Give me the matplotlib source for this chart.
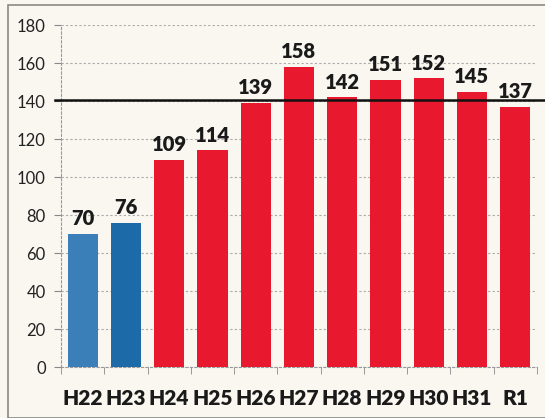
import numpy as np
import matplotlib.pyplot as plt
from matplotlib.patches import Rectangle

labels = ['H22', 'H23', 'H24', 'H25', 'H26', 'H27', 'H28', 'H29', 'H30', 'H31', 'R1']
values = [70, 76, 109, 114, 139, 158, 142, 151, 152, 145, 137]
colors = ['#3a7fb8', '#1d6aa8'] + ['#e8192e'] * 9
target = 140.5

plt.rcParams['font.family'] = ['Lato', 'DejaVu Sans']

fig = plt.figure(figsize=(5.45, 4.18), dpi=100)
fig.patch.set_facecolor('#f9f7f0')
ax = fig.add_axes([0.112, 0.122, 0.873, 0.818])
ax.set_facecolor('#f9f7f0')

# outer frame of the scanned figure
fig.patches.append(Rectangle((0.014, 0.0), 0.99, 0.987, transform=fig.transFigure,
                             fill=False, edgecolor='#8a8a84', linewidth=1.2))

x = np.arange(len(labels))
ax.bar(x, values, width=0.7, color=colors, zorder=3)
for xi, v in zip(x, values):
    ax.text(xi, v + 3, str(v), ha='center', va='bottom', fontsize=14.5,
            fontweight='heavy', color='#1a1a1a', zorder=4)

ax.plot([-0.013, 1.02], [target, target], transform=ax.get_yaxis_transform(),
        color='#111111', linewidth=1.8, clip_on=False, zorder=5)

ax.set_xlim(-0.5, len(labels) - 0.5)
ax.set_ylim(0, 180)
ax.set_yticks(range(0, 181, 20))
ax.yaxis.grid(True, color='#aaaaaa', linestyle=(0, (2, 2)), linewidth=0.8, zorder=0)

ax.set_xticks(x)
ax.set_xticklabels(labels, fontsize=15, fontweight='heavy', color='#1a1a1a')
ax.set_xticks(np.arange(-0.5, len(labels)), minor=True)
ax.tick_params(axis='x', which='major', length=0, pad=16)
ax.tick_params(axis='x', which='minor', length=5, color='#888888')
ax.tick_params(axis='y', length=5, color='#888888', labelsize=12, labelcolor='#222222', pad=6)

for s in ['top', 'right']:
    ax.spines[s].set_visible(False)
for s in ['left', 'bottom']:
    ax.spines[s].set_color('#999999')
    ax.spines[s].set_linestyle((0, (2, 2)))
    ax.spines[s].set_linewidth(0.8)

fig.savefig('out.png', dpi=100, facecolor=fig.get_facecolor())
